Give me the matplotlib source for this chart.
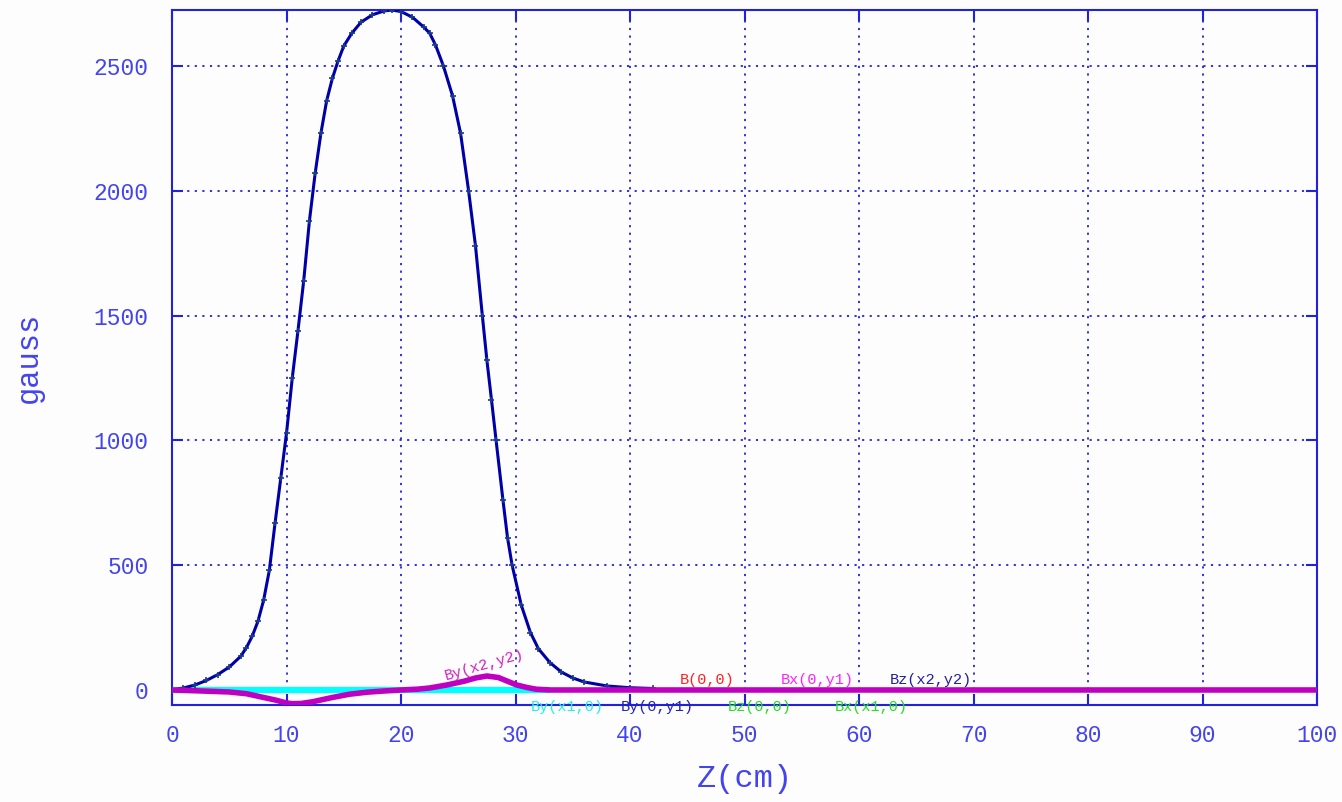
import numpy as np
import matplotlib
matplotlib.use("Agg")
import matplotlib.pyplot as plt

# Bz on axis (z in cm, field in gauss)
bz_z = [0, 1, 2, 3, 4, 5, 6, 6.5, 7, 7.5, 8, 8.5, 9, 9.5, 10, 10.5, 11, 11.5,
        12, 12.5, 13, 13.5, 14, 14.5, 15, 15.7, 16.5, 17.5, 18.5, 19.2, 20,
        21, 22, 22.5, 23, 23.7, 24.5, 25.2, 25.9, 26.5, 27.1, 27.5, 27.9,
        28.3, 28.9, 29.3, 29.7, 30.5, 31.3, 32, 33, 34, 35, 36, 38, 40, 42]
bz_val = [0, 8, 20, 38, 62, 92, 135, 170, 215, 275, 360, 480, 670, 850, 1030,
          1250, 1440, 1640, 1880, 2070, 2230, 2360, 2450, 2520, 2580, 2631,
          2675, 2705, 2720, 2724, 2718, 2695, 2655, 2631, 2585, 2500, 2380,
          2230, 2000, 1780, 1500, 1320, 1162, 1000, 761, 610, 500, 340, 230,
          165, 110, 72, 48, 32, 16, 9, 6]

# off-axis component (magenta)
by_z = [0, 2, 5, 6.5, 7.7, 9, 10, 10.5, 11.3, 12.3, 14, 15.5, 17, 18.5, 20,
        21.4, 22.5, 24, 25.5, 26.5, 27.5, 28.5, 29.3, 30.1, 31, 31.8, 33, 100]
by_val = [0, -3, -8, -15, -27, -40, -52, -55, -54, -47, -30, -17, -9, -4, 0,
          3, 8, 20, 35, 48, 56, 50, 35, 20, 10, 3, 0, 0]

# flat component (cyan)
dy_z = [0, 33]
dy_val = [0, 0]

xticks = list(range(0, 101, 10))
yticks = [0, 500, 1000, 1500, 2000, 2500]

labels_top = [("B(0,0)", 44.3, "#ff2020"), ("Bx(0,y1)", 53.2, "#ff20ff"),
              ("Bz(x2,y2)", 62.7, "#2020a0")]
labels_bot = [("By(x1,0)", 31.3, "#20f0f0"), ("By(0,y1)", 39.2, "#2020c0"),
              ("Bz(0,0)", 48.5, "#20e020"), ("Bx(x1,0)", 57.9, "#20e020")]

axcol = "#2222dd"
txtcol = "#4444ee"
mono = "Liberation Mono"

fig = plt.figure(figsize=(13.42, 8.02), dpi=100, facecolor="#fdfdfd")
ax = fig.add_axes([0.1282, 0.121, 0.8532, 0.8665])
ax.set_facecolor("#fdfdfd")

ax.plot(dy_z, dy_val, color="#00ffff", lw=4.5, solid_capstyle="butt", zorder=3)
ax.plot(bz_z, bz_val, color="#0000a8", lw=2.2, marker="+", ms=5, mew=1.2,
        mec="#1a3a8a", zorder=4)
ax.plot(by_z, by_val, color="#c000c0", lw=4, solid_capstyle="butt", zorder=5)

ax.set_xlim(0, 100)
ax.set_ylim(-60, 2724)
ax.set_xticks(xticks)
ax.set_yticks(yticks)

ax.grid(True, color=axcol, linestyle=(0, (1.2, 3)), lw=1.3)
for s in ax.spines.values():
    s.set_color(axcol)
    s.set_linewidth(1.5)
ax.tick_params(direction="in", length=8, width=1.5, color=axcol,
               labelcolor=txtcol, labelsize=16.5, top=True, right=True)
ax.tick_params(axis="x", pad=14)
ax.tick_params(axis="y", pad=17)
for t in ax.get_xticklabels() + ax.get_yticklabels():
    t.set_family(mono)

ax.set_xlabel("Z(cm)", fontsize=23, color=txtcol, family=mono, labelpad=12)
ax.set_ylabel("gauss", fontsize=22, color=txtcol, family=mono, labelpad=36)

ax.text(27.3, 28, "By(x2,y2)", color="#d020c0", fontsize=11, family=mono,
        rotation=16, ha="center", va="bottom", zorder=6)
for txt, x, c in labels_top:
    ax.text(x, 38, txt, color=c, fontsize=11, family=mono, ha="left",
            va="center", zorder=6)
for txt, x, c in labels_bot:
    ax.text(x, -70, txt, color=c, fontsize=11, family=mono, ha="left",
            va="center", zorder=6, clip_on=False)

fig.savefig("out.png", dpi=100, facecolor=fig.get_facecolor())
